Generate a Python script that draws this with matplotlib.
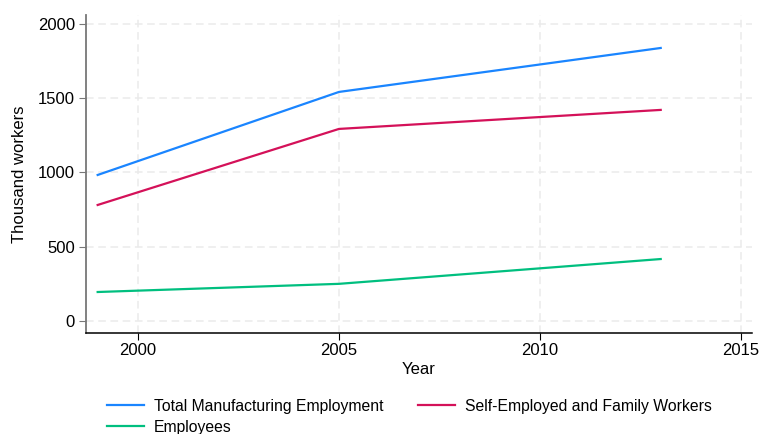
import matplotlib
matplotlib.use("Agg")
from matplotlib import pyplot as plt

years = [1999, 2005, 2013]
total = [983, 1542, 1838]
self_employed = [781, 1293, 1421]
employees = [195, 250, 417]

x_ticks = [2000, 2005, 2010, 2015]
y_ticks = [0, 500, 1000, 1500, 2000]

plt.rcParams["font.family"] = ["Liberation Sans", "DejaVu Sans"]

fig = plt.figure(figsize=(7.59, 4.34), dpi=100)
ax = fig.add_axes([86 / 759, 1 - 333 / 434, (752 - 86) / 759, (333 - 15) / 434])

ax.plot(years, total, color="#1a85ff", lw=1.6, label="Total Manufacturing Employment")
ax.plot(years, employees, color="#00bf7f", lw=1.6, label="Employees")
ax.plot(years, self_employed, color="#d41159", lw=1.6, label="Self-Employed and Family Workers")

ax.set_xlim(1998.71, 2015.27)
ax.set_ylim(-81, 2060)
ax.set_xticks(x_ticks)
ax.set_yticks(y_ticks)
ax.grid(True, color="#ebebeb", ls=(0, (5, 3)), lw=1.1)
ax.set_axisbelow(True)

for side in ["top", "right"]:
    ax.spines[side].set_visible(False)
ax.spines["left"].set_color("#777777")
ax.spines["left"].set_linewidth(1.3)
ax.spines["bottom"].set_linewidth(1.1)
ax.tick_params(axis="y", length=5, color="#777777", labelsize=12, pad=3)
ax.tick_params(axis="x", length=5, labelsize=12, pad=2)

ax.set_xlabel("Year", fontsize=12, labelpad=3)
ax.set_ylabel("Thousand workers", fontsize=12, labelpad=8)

handles, labels = ax.get_legend_handles_labels()
fig.legend(handles, labels, ncol=2, loc="upper left", bbox_to_anchor=(0.13, 0.099),
           frameon=False, fontsize=11.3, handlelength=2.4, columnspacing=2.2,
           labelspacing=0.38, handletextpad=0.6, borderpad=0)

fig.savefig("out.png", dpi=100)
